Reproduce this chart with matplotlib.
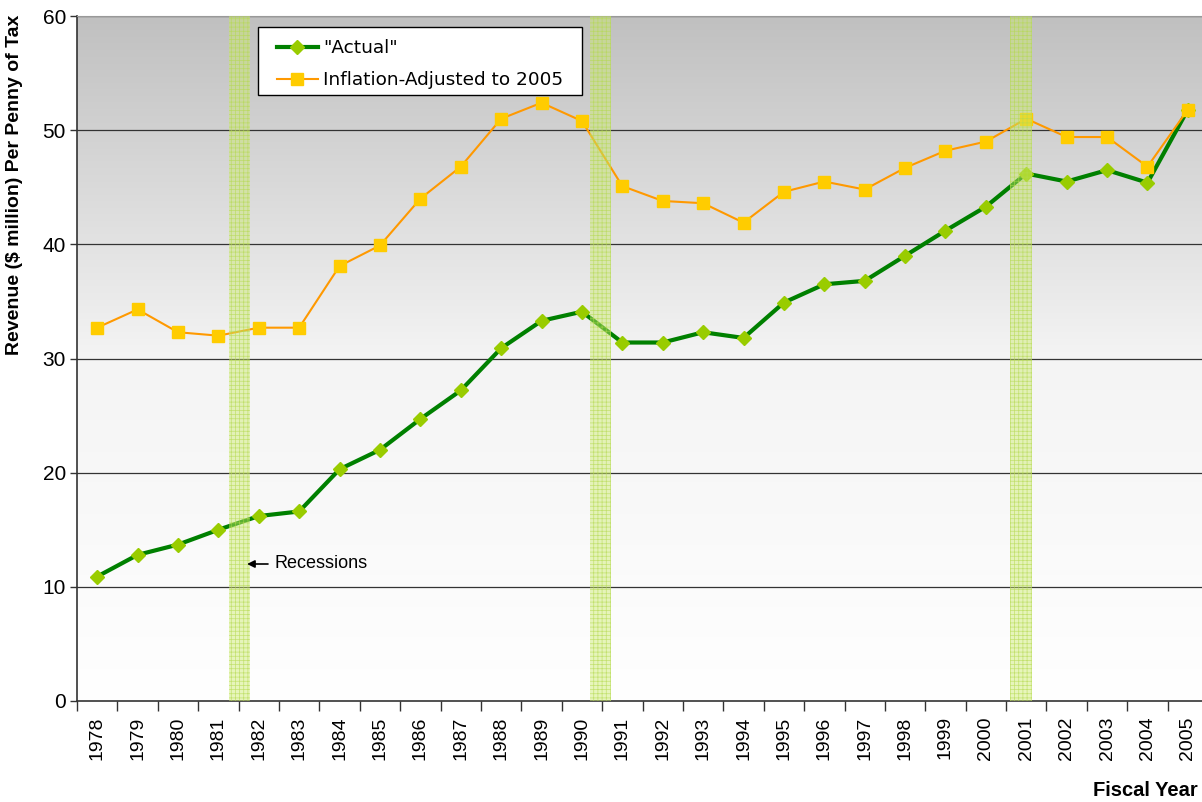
import matplotlib
matplotlib.use("Agg")
import matplotlib.pyplot as plt
import numpy as np
from matplotlib.colors import LinearSegmentedColormap
from matplotlib.patches import Rectangle

years = [str(y) for y in range(1978, 2006)]
actual = [10.9, 12.8, 13.7, 15.0, 16.2, 16.6, 20.3, 22.0, 24.7, 27.2, 30.9, 33.3, 34.1, 31.4,
          31.4, 32.3, 31.8, 34.9, 36.5, 36.8, 39.0, 41.2, 43.3, 46.2, 45.5, 46.5, 45.4, 51.8]
inflation_adj = [32.7, 34.3, 32.3, 32.0, 32.7, 32.7, 38.1, 39.9, 44.0, 46.8, 51.0, 52.4, 50.8, 45.1,
                 43.8, 43.6, 41.9, 44.6, 45.5, 44.8, 46.7, 48.2, 49.0, 51.0, 49.4, 49.4, 46.8, 51.8]
recessions = [(3.26, 3.78), (12.2, 12.72), (22.6, 23.15)]

W, H = 1202, 802
fig = plt.figure(figsize=(W / 100, H / 100), dpi=100)
ax = fig.add_axes([77 / W, 1 - 701 / H, (1202 - 77) / W, (701 - 16) / H])

x = np.arange(len(years))
ax.set_xlim(-0.5, 27.35)
ax.set_ylim(0, 60)

# gradient background
grad = np.linspace(0, 1, 256).reshape(-1, 1)
cmap = LinearSegmentedColormap.from_list("bg", ["#ffffff", "#f4f4f4", "#c0c0c0"])
ax.imshow(grad, aspect="auto", cmap=cmap, extent=[-0.5, 27.35, 0, 60], origin="lower", zorder=0)

for yv in range(10, 61, 10):
    ax.axhline(yv, color="#333333", lw=0.9, zorder=1)

ax.plot(x, actual, color="#008000", lw=3, marker="D", markersize=7.5,
        markerfacecolor="#99cc00", markeredgecolor="#99cc00", zorder=3, label='"Actual"')
ax.plot(x, inflation_adj, color="#ff9900", lw=1.5, marker="s", markersize=8.5,
        markerfacecolor="#ffcc00", markeredgecolor="#ffcc00", zorder=3.5,
        label="Inflation-Adjusted to 2005")

plt.rcParams['hatch.linewidth'] = 0.5
for a, b in recessions:
    ax.axvspan(a, b, facecolor=(0.8, 0.92, 0.42, 0.45), edgecolor=(0.7, 0.85, 0.3, 0.7),
               hatch="++++", lw=0, zorder=4)

# legend frame drawn as a rectangle in figure pixels
fig.patches.append(Rectangle((258 / W, 1 - 95 / H), (582 - 258) / W, (95 - 27) / H,
                             transform=fig.transFigure, facecolor="white", edgecolor="black",
                             lw=1.0, zorder=5))
handles, labels = ax.get_legend_handles_labels()
leg = fig.legend(handles, labels, loc="upper left",
                 bbox_to_anchor=(277 / W, 1 - 39 / H), frameon=False, fontsize=13.3,
                 borderpad=0, borderaxespad=0, labelspacing=0.78, handlelength=2.2,
                 handletextpad=0.3)
leg.set_zorder(6)

ax.annotate("Recessions", xy=(3.71, 12.0), xytext=(4.40, 12.0), fontsize=13,
            family="Liberation Sans", va="center", ha="left",
            arrowprops=dict(arrowstyle="-|>", color="black", lw=1.2, mutation_scale=11,
                            shrinkA=3, shrinkB=0), zorder=6)

ax.set_xticks(x)
ax.set_xticklabels(years, rotation=90, fontsize=14, family="Liberation Sans")
ax.set_xticks(np.arange(-0.5, 27.5, 1), minor=True)
ax.tick_params(axis="x", which="major", length=0, pad=11)
ax.tick_params(axis="x", which="minor", length=7, width=1, color="#333333")
ax.set_yticks(range(0, 61, 10))
ax.tick_params(axis="y", length=5, width=1, labelsize=15, color="#333333", pad=3)
for t in ax.get_yticklabels():
    t.set_family("Liberation Sans")

fig.text(15 / W, 1 - 15 / H, "Revenue ($ million) Per Penny of Tax", rotation=90,
         ha="center", va="top", fontsize=14, fontweight="bold", family="Liberation Sans")
fig.text(1198 / W, 1 - 790 / H, "Fiscal Year", ha="right", va="center", fontsize=14.5,
         fontweight="bold", family="Liberation Sans")

for s in ["left", "bottom"]:
    ax.spines[s].set_color("#333333")
    ax.spines[s].set_linewidth(1.2)
ax.spines["top"].set_color("#999999")
ax.spines["right"].set_visible(False)

fig.savefig("out.png", dpi=100)
